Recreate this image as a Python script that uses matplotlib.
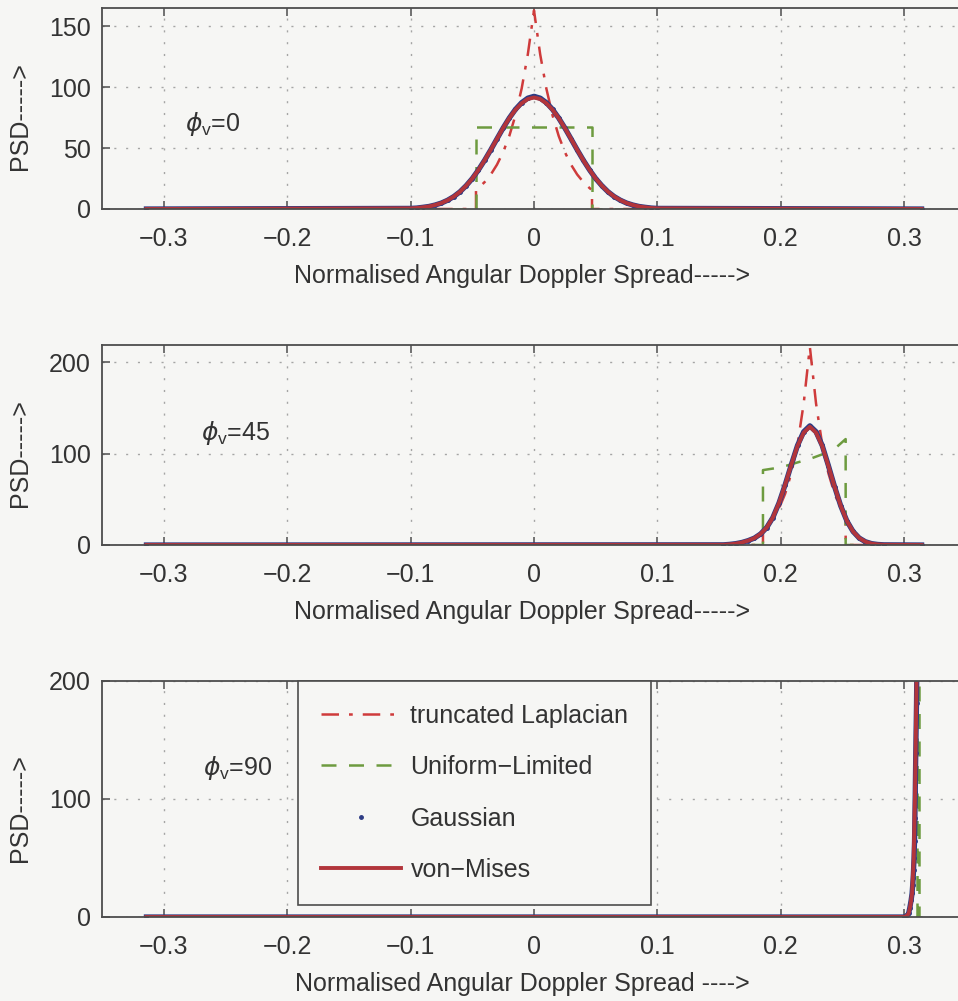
import numpy as np
import matplotlib
matplotlib.use('Agg')
import matplotlib.pyplot as plt
from matplotlib.lines import Line2D

plt.rcParams['font.family'] = ['Liberation Sans', 'DejaVu Sans']
plt.rcParams['mathtext.fontset'] = 'dejavusans'

# ---- tick setup ----
x_ticks = [-0.3, -0.2, -0.1, 0.0, 0.1, 0.2, 0.3]
x_tick_labels = ['\u22120.3', '\u22120.2', '\u22120.1', '0', '0.1', '0.2', '0.3']
y_ticks_0 = [0, 50, 100, 150]
y_ticks_45 = [0, 100, 200]
y_ticks_90 = [0, 100, 200]
y_top = [165, 219, 200]
phi_labels = ['0', '45', '90']

# ---- phi_v = 0 ----
x_bell_0 = [-0.314, -0.100, -0.095, -0.090, -0.085, -0.080, -0.075, -0.070, -0.065,
            -0.060, -0.055, -0.050, -0.045, -0.040, -0.035, -0.030, -0.025, -0.020,
            -0.015, -0.010, -0.005, 0.000, 0.005, 0.010, 0.015, 0.020, 0.025, 0.030,
            0.035, 0.040, 0.045, 0.050, 0.055, 0.060, 0.065, 0.070, 0.075, 0.080,
            0.085, 0.090, 0.095, 0.100, 0.314]
gauss_0 = [0, 0.5, 0.8, 1.4, 2.1, 3.3, 4.9, 7.2, 10.2, 14.1, 19.1, 25.0, 32.1, 40.0,
           48.6, 57.6, 66.5, 74.7, 81.8, 87.3, 91.0, 92.5, 91.0, 87.3, 81.8, 74.7,
           66.5, 57.6, 48.6, 40.0, 32.1, 25.0, 19.1, 14.1, 10.2, 7.2, 4.9, 3.3, 2.1,
           1.4, 0.8, 0.5, 0]
vonmises_0 = [0, 0.5, 0.8, 1.4, 2.1, 3.3, 4.9, 7.2, 10.2, 14.1, 19.1, 25.0, 32.1, 40.0,
              48.6, 57.6, 66.5, 74.6, 81.5, 86.8, 90.3, 91.5, 90.3, 86.8, 81.5, 74.6,
              66.5, 57.6, 48.6, 40.0, 32.1, 25.0, 19.1, 14.1, 10.2, 7.2, 4.9, 3.3, 2.1,
              1.4, 0.8, 0.5, 0]
x_lap_0 = [-0.314, -0.047, -0.047, -0.045, -0.040, -0.035, -0.030, -0.025, -0.020,
           -0.015, -0.010, -0.005, 0.000, 0.005, 0.010, 0.015, 0.020, 0.025, 0.030,
           0.035, 0.040, 0.045, 0.047, 0.047, 0.314]
lap_0 = [0, 0, 15.5, 17.2, 22.1, 28.3, 36.4, 46.7, 60.0, 77.0, 98.9, 127.0, 163.0,
         127.0, 98.9, 77.0, 60.0, 46.7, 36.4, 28.3, 22.1, 17.2, 15.5, 0, 0]
x_unif_0 = [-0.314, -0.047, -0.047, 0.047, 0.047, 0.314]
unif_0 = [0, 0, 67.5, 67.5, 0, 0]

# ---- phi_v = 45 ----
x_bell_45 = [-0.314, 0.1535, 0.1585, 0.1635, 0.1685, 0.1735, 0.1785, 0.1835, 0.1885,
             0.1935, 0.1985, 0.2035, 0.2085, 0.2135, 0.2185, 0.2235, 0.2285, 0.2335,
             0.2385, 0.2435, 0.2485, 0.2535, 0.2585, 0.2635, 0.2685, 0.2735, 0.2785,
             0.2835, 0.314]
gauss_45 = [0, 0.2, 0.7, 1.5, 2.8, 4.8, 7.5, 12.0, 19.0, 30.0, 46.0, 66.0, 88.0, 109.0,
            124.0, 130.5, 124.0, 109.0, 87.0, 64.0, 42.9, 26.3, 14.8, 7.6, 3.6, 1.5,
            0.6, 0.2, 0]
vonmises_45 = [0, 0.2, 0.7, 1.5, 2.8, 4.8, 7.5, 12.0, 19.0, 30.0, 46.0, 66.0, 88.0,
               108.5, 123.0, 129.5, 123.0, 108.5, 86.5, 64.0, 42.9, 26.3, 14.8, 7.6,
               3.6, 1.5, 0.6, 0.2, 0]
x_lap_45 = [-0.314, 0.1855, 0.1855, 0.1885, 0.1935, 0.1985, 0.2035, 0.2085, 0.2135,
            0.2185, 0.2235, 0.2285, 0.2335, 0.2385, 0.2435, 0.2485, 0.2525, 0.2525, 0.314]
lap_45 = [0, 0, 16.6, 20.4, 28.6, 40.1, 56.2, 78.7, 110.0, 155.0, 217.0, 155.0, 110.0,
          78.7, 56.2, 40.1, 30.6, 0, 0]
x_unif_45 = [-0.314, 0.1855, 0.1855, 0.195, 0.205, 0.215, 0.225, 0.235, 0.245,
             0.2525, 0.2525, 0.314]
unif_45 = [0, 0, 82, 84, 87, 91, 95, 100, 107, 116, 0, 0]

# ---- phi_v = 90 ----
x_gauss_90 = [-0.314, 0.3000, 0.3025, 0.3035, 0.3045, 0.3055, 0.3063, 0.3068, 0.3072,
              0.3075, 0.3079, 0.3083, 0.3086, 0.3089, 0.3093, 0.3099, 0.3104, 0.3110]
gauss_90 = [0, 0, 1.5, 3, 8, 14, 20, 27, 33, 40, 50, 64, 84, 106, 139, 181, 230, 300]
x_vm_90 = [-0.314, 0.3000, 0.3020, 0.3036, 0.3050, 0.3063, 0.3076, 0.3087, 0.3098,
           0.3105, 0.3112]
vonmises_90 = [0, 0, 1, 3, 10, 20, 48, 105, 190, 250, 330]
x_lap_90 = [-0.314, 0.3030, 0.3050, 0.3070, 0.3090, 0.3100, 0.3110]
lap_90 = [0, 0, 5, 30, 120, 210, 320]
x_unif_90 = [-0.314, 0.3105, 0.3105, 0.3117, 0.3117, 0.314]
unif_90 = [0, 0, 330, 330, 0, 0]

series_labels = ['truncated Laplacian', 'Uniform\u2212Limited', 'Gaussian', 'von\u2212Mises']

panels = [
    (x_lap_0, lap_0, x_unif_0, unif_0, x_bell_0, gauss_0, x_bell_0, vonmises_0, y_ticks_0),
    (x_lap_45, lap_45, x_unif_45, unif_45, x_bell_45, gauss_45, x_bell_45, vonmises_45, y_ticks_45),
    (x_lap_90, lap_90, x_unif_90, unif_90, x_gauss_90, gauss_90, x_vm_90, vonmises_90, y_ticks_90),
]

bg = '#f6f6f4'
spine_c = '#4d4d4d'
text_c = '#333333'
c_lap = '#cf3b3b'
c_unif = '#6d9b3f'
c_gauss = '#2d3c84'
c_vm = '#b2353b'
fs = 18

fig = plt.figure(figsize=(9.58, 10.01), dpi=100, facecolor=bg)

# axes boxes in figure pixels: left, top, bottom
W, H = 958.0, 1001.0
boxes = [(102, 8, 209), (102, 345, 545), (102, 681, 917)]
ax_w = 864.0
xlabels = ['Normalised Angular Doppler Spread----->',
           'Normalised Angular Doppler Spread----->',
           'Normalised Angular Doppler Spread ---->']
phi_pos = [(-0.283, 70), (-0.27, 123), (-0.268, 126)]

axes = []
for i, (left, top, bottom) in enumerate(boxes):
    ax = fig.add_axes([left / W, 1 - bottom / H, ax_w / W, (bottom - top) / H])
    ax.set_facecolor(bg)
    xl, yl, xu, yu, xg, yg, xv, yv, yt = panels[i]

    ax.plot(xl, yl, color=c_lap, ls=(0, (7, 4, 1.5, 4)), lw=1.8)
    ax.plot(xu, yu, color=c_unif, ls=(0, (6, 5)), lw=1.8)
    ax.plot(xg, yg, color=c_gauss, ls='-', lw=3.8, marker='.', ms=5)
    ax.plot(xv, yv, color=c_vm, ls='-', lw=2.8)

    ax.set_xlim(-0.35, 0.35)
    ax.set_ylim(0, y_top[i])
    ax.set_xticks(x_ticks)
    ax.set_xticklabels(x_tick_labels)
    ax.set_yticks(yt)
    ax.set_axisbelow(True)
    ax.grid(True, color='#a5a5a5', ls=(0, (1.5, 7)), lw=1.0)
    ax.tick_params(direction='in', top=True, right=True, length=6, width=1.1,
                   color=spine_c, labelcolor=text_c, labelsize=fs)
    ax.tick_params(axis='x', pad=13)
    ax.tick_params(axis='y', pad=8)
    for s in ax.spines.values():
        s.set_color(spine_c)
        s.set_linewidth(1.3)

    ax.set_xlabel(xlabels[i], fontsize=fs, color=text_c)
    ax.xaxis.set_label_coords((522 - left) / ax_w, -55.0 / (bottom - top), transform=ax.transAxes)
    ax.set_ylabel('PSD----->', fontsize=fs, color=text_c)
    ax.yaxis.set_label_coords(-70.0 / ax_w, 0.46)

    px, py = phi_pos[i]
    ax.text(px, py, r'$\phi_{\mathregular{v}}$=' + phi_labels[i], fontsize=fs,
            color=text_c, va='center', ha='left')
    axes.append(ax)

handles = [
    Line2D([], [], color=c_lap, ls=(0, (7, 4, 1.5, 4)), lw=1.8),
    Line2D([], [], color=c_unif, ls=(0, (6, 5)), lw=1.8),
    Line2D([], [], color=c_gauss, ls='none', marker='.', ms=5),
    Line2D([], [], color=c_vm, ls='-', lw=2.8),
]
leg = axes[2].legend(handles, series_labels, loc='upper left',
                     bbox_to_anchor=((298 - 102) / ax_w, 1.0), borderaxespad=0,
                     fontsize=fs, frameon=True, fancybox=False, framealpha=1,
                     edgecolor=spine_c, facecolor=bg, handlelength=3.2,
                     handletextpad=0.4, labelspacing=1.1, borderpad=0.9)
leg.get_frame().set_linewidth(1.2)
for t in leg.get_texts():
    t.set_color(text_c)

fig.savefig('out.png', dpi=100, facecolor=bg)
